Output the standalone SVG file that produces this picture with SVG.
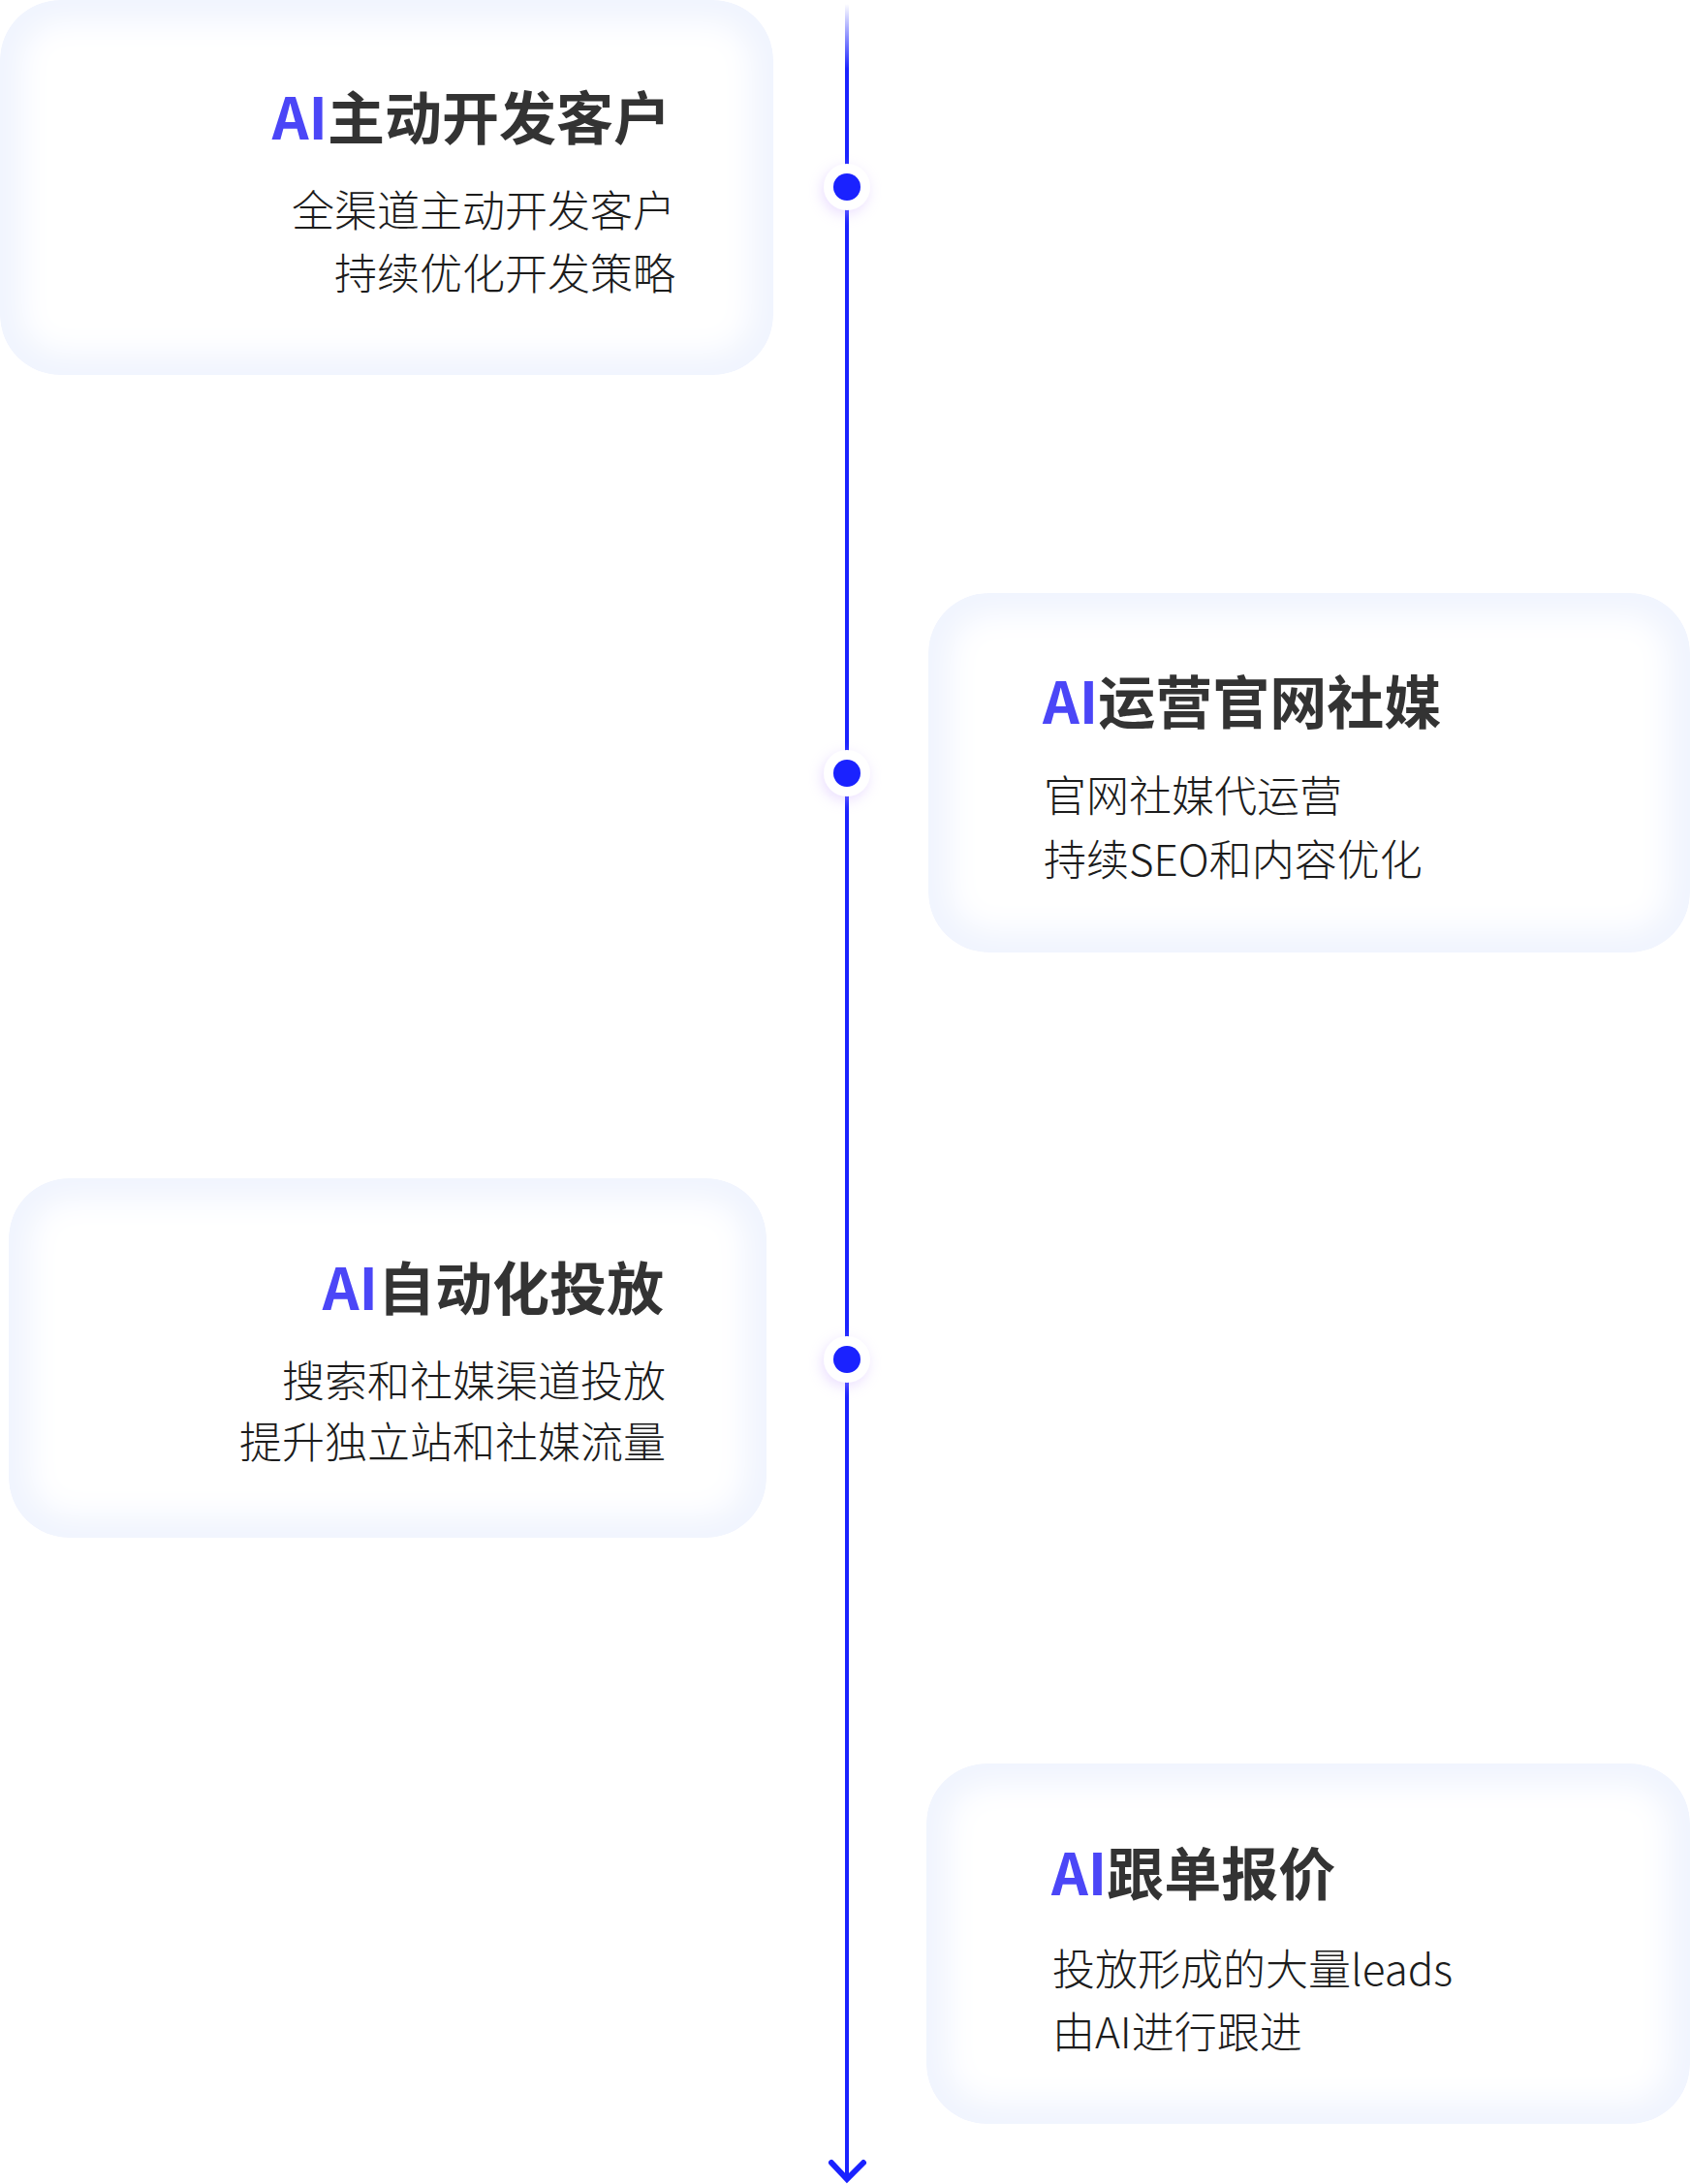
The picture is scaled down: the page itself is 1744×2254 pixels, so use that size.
<svg xmlns="http://www.w3.org/2000/svg" width="1744" height="2254" viewBox="0 0 1744 2254">
<defs>
<style>
.card-bg{fill:#f0f4fe}
.card-in{fill:#ffffff;filter:url(#soft)}
.title{font-family:"Noto Sans CJK SC","Noto Sans",sans-serif;font-size:59px;font-weight:700;fill:#333333}
.ai{fill:#4b46f7}
.sub{font-family:"Noto Sans CJK SC","Noto Sans",sans-serif;font-size:44px;font-weight:300;fill:#1c1c1c}
.dot{fill:#1a22ff}
.halo{fill:#ffffff;filter:url(#glow)}
</style>
<filter id="soft" x="-20%" y="-20%" width="140%" height="140%">
<feGaussianBlur stdDeviation="15"/>
</filter>
<filter id="glow" x="-100%" y="-100%" width="300%" height="300%">
<feDropShadow dx="-2" dy="4" stdDeviation="7" flood-color="#d0b6ff" flood-opacity="0.45"/>
</filter>
<linearGradient id="lineGrad" x1="0" y1="0" x2="0" y2="1" gradientUnits="objectBoundingBox">
<stop offset="0" stop-color="#1a22ff" stop-opacity="0"/>
<stop offset="0.03" stop-color="#1a22ff" stop-opacity="1"/>
<stop offset="1" stop-color="#1a22ff" stop-opacity="1"/>
</linearGradient>
<clipPath id="c1"><rect x="0" y="0" width="798" height="387" rx="62"/></clipPath>
<clipPath id="c2"><rect x="958" y="612" width="786" height="371" rx="62"/></clipPath>
<clipPath id="c3"><rect x="9" y="1216" width="782" height="371" rx="62"/></clipPath>
<clipPath id="c4"><rect x="956" y="1820" width="788" height="372" rx="62"/></clipPath>
</defs>
<rect width="1744" height="2254" fill="#ffffff"/>

<g id="connectors">
<rect x="872" y="4" width="4" height="2244" fill="url(#lineGrad)"/>
<polyline points="858,2232 874,2249 891,2232" fill="none" stroke="#1a22ff" stroke-width="6" stroke-linecap="round" stroke-linejoin="miter"/>
</g>

<g id="step1">
<g clip-path="url(#c1)">
<rect class="card-bg" x="0" y="0" width="798" height="387" rx="62"/>
<rect class="card-in" x="22" y="22" width="754" height="343" rx="44"/>
</g>
<text class="title" x="692" y="144" text-anchor="end"><tspan class="ai">AI</tspan>主动开发客户</text>
<text class="sub" x="697" y="234" text-anchor="end">全渠道主动开发客户</text>
<text class="sub" x="697" y="299" text-anchor="end">持续优化开发策略</text>
</g>

<g id="step2">
<g clip-path="url(#c2)">
<rect class="card-bg" x="958" y="612" width="786" height="371" rx="62"/>
<rect class="card-in" x="980" y="634" width="742" height="327" rx="44"/>
</g>
<text class="title" x="1076" y="747"><tspan class="ai">AI</tspan>运营官网社媒</text>
<text class="sub" x="1077" y="838">官网社媒代运营</text>
<text class="sub" x="1077" y="904">持续SEO和内容优化</text>
</g>

<g id="step3">
<g clip-path="url(#c3)">
<rect class="card-bg" x="9" y="1216" width="782" height="371" rx="62"/>
<rect class="card-in" x="31" y="1238" width="738" height="327" rx="44"/>
</g>
<text class="title" x="685" y="1352" text-anchor="end"><tspan class="ai">AI</tspan>自动化投放</text>
<text class="sub" x="687" y="1442" text-anchor="end">搜索和社媒渠道投放</text>
<text class="sub" x="687" y="1505" text-anchor="end">提升独立站和社媒流量</text>
</g>

<g id="step4">
<g clip-path="url(#c4)">
<rect class="card-bg" x="956" y="1820" width="788" height="372" rx="62"/>
<rect class="card-in" x="978" y="1842" width="744" height="328" rx="44"/>
</g>
<text class="title" x="1085" y="1956"><tspan class="ai">AI</tspan>跟单报价</text>
<text class="sub" x="1086" y="2049">投放形成的大量leads</text>
<text class="sub" x="1086" y="2114">由AI进行跟进</text>
</g>

<g id="dot1"><circle class="halo" cx="874" cy="193" r="24"/><circle class="dot" cx="874" cy="193" r="14"/></g>
<g id="dot2"><circle class="halo" cx="874" cy="798" r="24"/><circle class="dot" cx="874" cy="798" r="14"/></g>
<g id="dot3"><circle class="halo" cx="874" cy="1403" r="24"/><circle class="dot" cx="874" cy="1403" r="14"/></g>
</svg>
